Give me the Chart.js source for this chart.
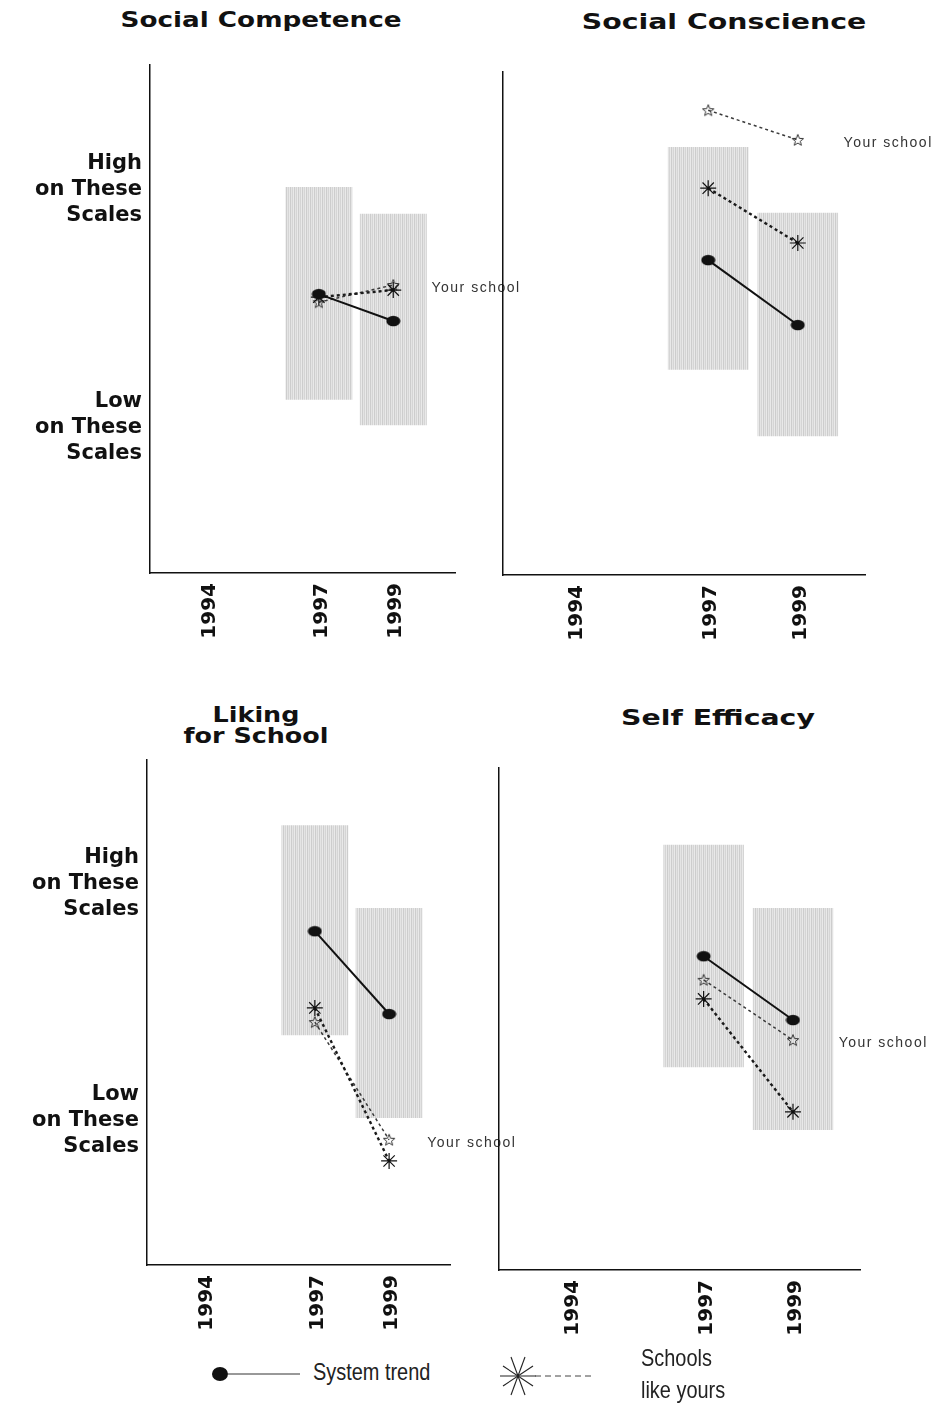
<!DOCTYPE html>
<html><head><meta charset="utf-8">
<script src="https://cdn.jsdelivr.net/npm/chart.js@4.4.0/dist/chart.umd.min.js"></script>
<style>
html,body{margin:0;padding:0;background:#fff;}
body{width:931px;height:1403px;position:relative;overflow:hidden;}
canvas{position:absolute;}
.title{position:absolute;font-family:"DejaVu Sans";font-weight:bold;font-size:21px;color:#111;white-space:nowrap;text-align:center;line-height:21px;}
.leg{position:absolute;font-family:"Liberation Sans Narrow","Liberation Sans";font-size:24px;color:#222;white-space:nowrap;transform-origin:0 0;transform:scaleX(0.83);}
svg{position:absolute;}
</style>
</head><body>
<div class="title" style="left:261px;top:10px;transform:translateX(-50%) scaleX(1.25);">Social Competence</div>
<div class="title" style="left:724px;top:12px;transform:translateX(-50%) scaleX(1.35);">Social Conscience</div>
<div class="title" style="left:256px;top:705px;transform:translateX(-50%) scaleX(1.21);">Liking<br>for School</div>
<div class="title" style="left:718px;top:708px;transform:translateX(-50%) scaleX(1.35);">Self Efficacy</div>

<canvas id="c1" width="525" height="613" style="left:10px;top:40px;"></canvas>
<canvas id="c2" width="448" height="615" style="left:483px;top:40px;"></canvas>
<canvas id="c3" width="523" height="605" style="left:7px;top:740px;"></canvas>
<canvas id="c4" width="452" height="610" style="left:479px;top:740px;"></canvas>

<svg style="left:200px;top:1355px;" width="110" height="40">
  <ellipse cx="20" cy="19" rx="8" ry="7" fill="#111"/>
  <line x1="28" y1="19" x2="100" y2="19" stroke="#333" stroke-width="1"/>
</svg>
<div class="leg" style="left:313px;top:1358px;line-height:28px;">System trend</div>
<svg style="left:495px;top:1352px;" width="110" height="48">
  <g stroke="#222" stroke-width="1.1" transform="translate(23,24)">
    <line x1="-18" y1="0" x2="18" y2="0"/>
    <line x1="-15" y1="-10" x2="15" y2="10"/>
    <line x1="-15" y1="10" x2="15" y2="-10"/>
    <line x1="-7" y1="-19" x2="7" y2="19"/>
    <line x1="-7" y1="19" x2="7" y2="-19"/>
  </g>
  <line x1="40" y1="24" x2="100" y2="24" stroke="#444" stroke-width="1" stroke-dasharray="6 4"/>
</svg>
<div class="leg" style="left:641px;top:1342px;line-height:32px;">Schools<br>like yours</div>

<script>
// ---- data ----
const years = [1997, 1999];
const tickYears = [1994, 1997, 1999];
const yTickValues = [28.6, 75.5];
const yTickLabels = [["Low", "on These", "Scales"], ["High", "on These", "Scales"]];
const seriesNames = ["System trend", "Schools like yours", "Your school"];

const competenceSystem = [54.9, 49.6];
const competenceSchools = [54.3, 55.7];
const competenceYours = [53.3, 56.7];
const competenceRangeLow = [34.1, 29.1];
const competenceRangeHigh = [76.0, 70.7];

const conscienceSystem = [62.6, 49.7];
const conscienceSchools = [76.9, 66.0];
const conscienceYours = [92.4, 86.5];
const conscienceRangeLow = [40.8, 27.6];
const conscienceRangeHigh = [85.1, 72.0];

const likingSystem = [66.1, 49.7];
const likingSchools = [50.9, 20.6];
const likingYours = [48.1, 24.8];
const likingRangeLow = [45.5, 29.1];
const likingRangeHigh = [87.1, 70.7];

const efficacySystem = [62.5, 49.8];
const efficacySchools = [54.0, 31.5];
const efficacyYours = [57.8, 45.8];
const efficacyRangeLow = [40.4, 27.9];
const efficacyRangeHigh = [84.7, 72.1];

// ---- marker images ----
function dotImg() {
  const c = document.createElement('canvas'); c.width = 15; c.height = 12;
  const g = c.getContext('2d'); g.fillStyle = '#111';
  g.beginPath(); g.ellipse(7.5, 6, 7, 5.2, 0, 0, Math.PI * 2); g.fill();
  return c;
}
function starImg() {
  const c = document.createElement('canvas'); c.width = 14; c.height = 14;
  const g = c.getContext('2d'); g.strokeStyle = '#333'; g.lineWidth = 1;
  g.beginPath();
  for (let i = 0; i < 10; i++) {
    const r = i % 2 === 0 ? 6 : 2.6;
    const a = -Math.PI / 2 + i * Math.PI / 5;
    const px = 7 + r * Math.cos(a), py = 7.5 + r * Math.sin(a);
    if (i === 0) g.moveTo(px, py); else g.lineTo(px, py);
  }
  g.closePath(); g.stroke();
  return c;
}
function makePattern(ctx) {
  const c = document.createElement('canvas'); c.width = 4; c.height = 4;
  const g = c.getContext('2d');
  ['#cdcdcd', '#e4e4e4', '#d5d5d5', '#e9e9e9'].forEach((col, i) => { g.fillStyle = col; g.fillRect(i, 0, 1, 4); });
  return ctx.createPattern(c, 'repeat');
}
const DOT = dotImg();
const STAR = starImg();

const yourSchoolLabel = {
  id: 'yourSchoolLabel',
  afterDatasetsDraw(chart) {
    const idx = chart.data.datasets.findIndex(d => d.label === seriesNames[2]);
    const meta = chart.getDatasetMeta(idx);
    const pt = meta.data[meta.data.length - 1];
    const x = chart.scales.x.getPixelForValue(years[years.length - 1] + 1) + 1;
    const ctx = chart.ctx;
    ctx.save();
    ctx.font = '14px "Liberation Sans"';
    try { ctx.letterSpacing = '1.5px'; } catch (e) {}
    ctx.fillStyle = '#333';
    ctx.textBaseline = 'middle';
    ctx.textAlign = 'left';
    ctx.fillText('Your school', x, pt.y + 3);
    ctx.restore();
  }
};

function makeChart(id, sys, sch, yrs, lo, hi, showY, yAxisWidth, pad, xMin, xMax) {
  const ctx = document.getElementById(id).getContext('2d');
  return new Chart(ctx, {
    type: 'line',
    data: {
      datasets: [
        { type: 'line', label: seriesNames[0], data: years.map((x, i) => ({ x, y: sys[i] })),
          borderColor: '#111', borderWidth: 2, pointStyle: DOT, pointRadius: 6, order: 1 },
        { type: 'line', label: seriesNames[1], data: years.map((x, i) => ({ x, y: sch[i] })),
          borderColor: '#1a1a1a', borderWidth: 2.4, borderDash: [3, 3], pointStyle: 'star', pointRadius: 8,
          pointBorderWidth: 1.2, pointBorderColor: '#111', pointBackgroundColor: '#111', order: 2 },
        { type: 'line', label: seriesNames[2], data: years.map((x, i) => ({ x, y: yrs[i] })),
          borderColor: '#3a3a3a', borderWidth: 1.5, borderDash: [3, 3], pointStyle: STAR, pointRadius: 6, order: 3 },
        { type: 'bar', label: 'Range', data: years.map((x, i) => ({ x, y: [lo[i], hi[i]] })),
          backgroundColor: makePattern(ctx), borderWidth: 0, categoryPercentage: 0.9, barPercentage: 1, order: 10 }
      ]
    },
    options: {
      responsive: false, animation: false, devicePixelRatio: 1,
      layout: { padding: pad },
      plugins: { legend: { display: false }, tooltip: { enabled: false }, title: { display: false } },
      scales: {
        x: {
          type: 'linear', min: xMin, max: xMax, offset: false,
          grid: { display: false, drawTicks: false },
          border: { display: true, color: '#111', width: 1.5 },
          afterBuildTicks: ax => { ax.ticks = tickYears.map(v => ({ value: v })); },
          afterFit: ax => { ax.height = 80; ax.paddingLeft = 0; ax.paddingRight = 0; },
          ticks: { autoSkip: false, minRotation: 90, maxRotation: 90, padding: 10, labelOffset: 3, color: '#111',
            font: { family: '"DejaVu Sans"', weight: 'bold', size: 20 }, callback: v => String(v) }
        },
        y: {
          type: 'linear', min: 0, max: 100,
          grid: { display: false, drawTicks: false },
          border: { display: true, color: '#111', width: 1.5 },
          afterBuildTicks: ax => { ax.ticks = yTickValues.map(v => ({ value: v })); },
          afterFit: ax => { ax.width = yAxisWidth; ax.paddingTop = 0; ax.paddingBottom = 0; },
          ticks: { display: showY, padding: 8, color: '#111',
            font: { family: '"DejaVu Sans"', weight: 'bold', size: 21, lineHeight: 1.24 },
            callback: (v, i) => yTickLabels[i] }
        }
      }
    },
    plugins: [yourSchoolLabel]
  });
}

makeChart('c1', competenceSystem, competenceSchools, competenceYours, competenceRangeLow, competenceRangeHigh, true, 140, { top: 25, right: 80, bottom: 0, left: 0 }, 1992.46, 2000.66);
makeChart('c2', conscienceSystem, conscienceSchools, conscienceYours, conscienceRangeLow, conscienceRangeHigh, false, 20, { top: 32, right: 66, bottom: 0, left: 0 }, 1992.42, 2000.5);
makeChart('c3', likingSystem, likingSchools, likingYours, likingRangeLow, likingRangeHigh, true, 140, { top: 20, right: 80, bottom: 0, left: 0 }, 1992.48, 2000.64);
makeChart('c4', efficacySystem, efficacySchools, efficacyYours, efficacyRangeLow, efficacyRangeHigh, false, 20, { top: 28, right: 71, bottom: 0, left: 0 }, 1992.42, 2000.5);
</script>
</body></html>
